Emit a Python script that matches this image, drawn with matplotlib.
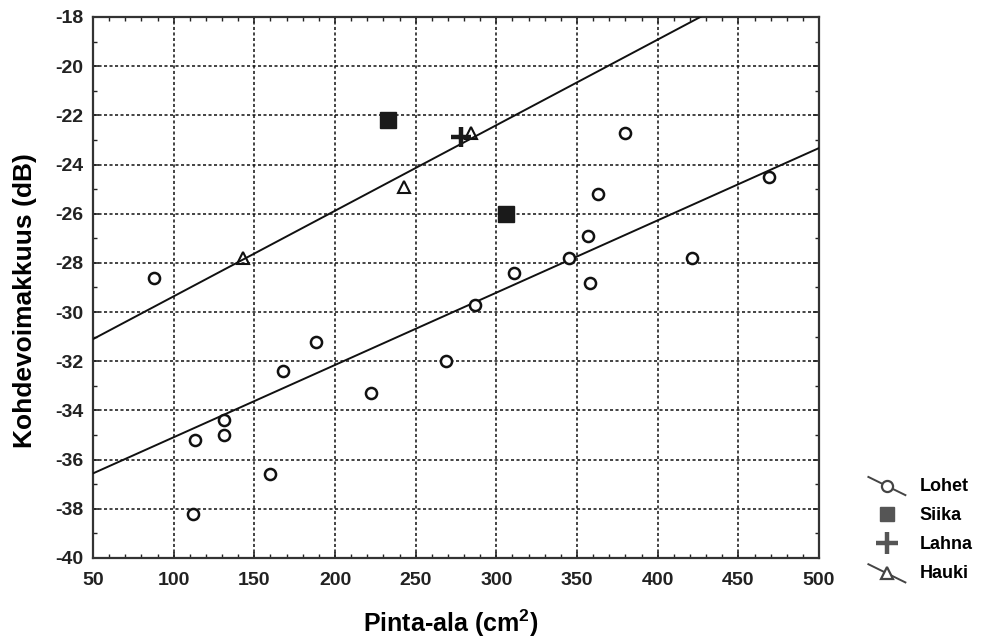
import numpy as np
import matplotlib
matplotlib.use("Agg")
import matplotlib.pyplot as plt
from matplotlib.legend_handler import HandlerLine2D
from matplotlib.lines import Line2D
from matplotlib.ticker import MultipleLocator

# Pinta-ala (cm^2) vs. kohdevoimakkuus (dB)
lohet_x = [88, 112, 113, 131, 131, 160, 168, 188, 222, 269, 287, 311, 345, 357, 358, 363, 380, 421, 469]
lohet_y = [-28.6, -38.2, -35.2, -34.4, -35.0, -36.6, -32.4, -31.2, -33.3, -32.0, -29.7,
           -28.4, -27.8, -26.9, -28.8, -25.2, -22.7, -27.8, -24.5]
siika_x = [233, 306]
siika_y = [-22.2, -26.0]
lahna_x = [278]
lahna_y = [-22.9]
hauki_x = [143, 243, 284]
hauki_y = [-27.8, -24.9, -22.7]

# fitted lines: (intercept at x=0, slope)
lohet_fit = (-38.03, 0.0294)
hauki_fit = (-32.84, 0.0348)

x_ticks = [50, 100, 150, 200, 250, 300, 350, 400, 450, 500]
y_ticks = [-40, -38, -36, -34, -32, -30, -28, -26, -24, -22, -20, -18]

plt.rcParams['font.family'] = ['Liberation Sans', 'DejaVu Sans']
plt.rcParams['font.weight'] = 'bold'
plt.rcParams['axes.unicode_minus'] = False
plt.rcParams['mathtext.fontset'] = 'custom'
plt.rcParams['mathtext.rm'] = 'Liberation Sans:bold'
plt.rcParams['mathtext.bf'] = 'Liberation Sans:bold'

fig = plt.figure(figsize=(9.81, 6.38), dpi=100)
ax = fig.add_axes([0.0948, 0.1254, 0.7401, 0.848])

xx = np.array([x_ticks[0], x_ticks[-1]], dtype=float)
for b0, b1 in (lohet_fit, hauki_fit):
    ax.plot(xx, b0 + b1 * xx, color='#111111', lw=1.4, zorder=3)

ax.plot(lohet_x, lohet_y, 'o', ms=8, mfc='white', mec='#111111', mew=1.8, zorder=4)
ax.plot(siika_x, siika_y, 's', ms=11, color='#1a1a1a', zorder=4)
ax.plot(lahna_x, lahna_y, '+', ms=15, mew=3.2, color='#1a1a1a', zorder=5)
ax.plot(hauki_x, hauki_y, '^', ms=9, mfc='none', mec='#111111', mew=1.5, zorder=4)

ax.set_xlim(x_ticks[0], x_ticks[-1])
ax.set_ylim(y_ticks[0], y_ticks[-1])
ax.set_xticks(x_ticks)
ax.set_yticks(y_ticks)
ax.xaxis.set_minor_locator(MultipleLocator(10))
ax.yaxis.set_minor_locator(MultipleLocator(1))
ax.tick_params(which='both', direction='in', top=True, right=True, colors='#222222')
ax.tick_params(which='major', length=4, width=1.2, labelsize=14)
ax.tick_params(which='minor', length=3, width=1.0)
ax.tick_params(axis='x', pad=10)
ax.tick_params(axis='y', pad=7)
ax.grid(True, which='major', color='#111111', linestyle=(0, (2, 1.6)), lw=1.1)
for side in ax.spines.values():
    side.set_linewidth(1.6)
    side.set_color('#333333')

ax.set_xlabel('Pinta-ala (cm$^\\mathbf{2}$)', fontsize=18, fontweight='bold')
ax.set_ylabel('Kohdevoimakkuus (dB)', fontsize=19, fontweight='bold')
ax.xaxis.set_label_coords(0.493, -0.121, transform=ax.transAxes)
ax.yaxis.set_label_coords(-0.094, 0.475, transform=ax.transAxes)
ax.xaxis.label.set_verticalalignment('center')
ax.yaxis.label.set_verticalalignment('center')


class SlantHandler(HandlerLine2D):
    # legend key drawn as a short falling line with the marker in the middle
    def create_artists(self, legend, orig_handle, xdescent, ydescent,
                       width, height, fontsize, trans):
        x0, x1 = -xdescent, -xdescent + width
        y0, y1 = height + 1 - ydescent, -ydescent - 3
        seg = Line2D([x0, x1], [y0, y1], color='#444444', lw=1.4)
        mk = Line2D([(x0 + x1) / 2], [(y0 + y1) / 2], linestyle='none',
                    marker=orig_handle.get_marker(), ms=orig_handle.get_markersize(),
                    mfc='white', mec='#444444', mew=1.6)
        seg.set_transform(trans)
        mk.set_transform(trans)
        return [seg, mk]


h_lohet = Line2D([], [], marker='o', ms=8, color='#444444')
h_siika = Line2D([], [], marker='s', ms=10, linestyle='none', color='#555555')
h_lahna = Line2D([], [], marker='+', ms=16, mew=3.2, linestyle='none', color='#555555')
h_hauki = Line2D([], [], marker='^', ms=9, color='#444444')
fig.legend([h_lohet, h_siika, h_lahna, h_hauki], ['Lohet', 'Siika', 'Lahna', 'Hauki'],
           loc='upper left', bbox_to_anchor=(0.876, 0.265), frameon=False,
           fontsize=13, handlelength=2.05, handletextpad=0.8, labelspacing=0.67,
           borderpad=0, handler_map={h_lohet: SlantHandler(), h_hauki: SlantHandler()})

fig.savefig('out.png', dpi=100)
